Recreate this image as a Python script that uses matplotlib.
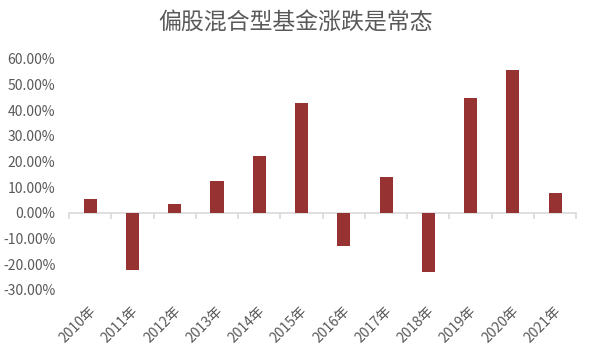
import numpy as np
import matplotlib.pyplot as plt
import matplotlib.transforms as mtransforms

plt.rcParams['font.family'] = ['Noto Sans CJK SC', 'DejaVu Sans']

# data
years = ['2010年', '2011年', '2012年', '2013年', '2014年', '2015年',
         '2016年', '2017年', '2018年', '2019年', '2020年', '2021年']
returns = [0.054, -0.224, 0.035, 0.124, 0.222, 0.428,
           -0.128, 0.141, -0.232, 0.447, 0.556, 0.078]
yticks = [-0.3, -0.2, -0.1, 0.0, 0.1, 0.2, 0.3, 0.4, 0.5, 0.6]

grey = '#595959'
bar_color = '#963232'

fig = plt.figure(figsize=(5.91, 3.51), dpi=100)
ax = fig.add_axes([0.117, 0.174, 0.858, 0.658])

x = np.arange(len(years))
ax.bar(x, returns, width=0.31, color=bar_color, zorder=3)

ax.set_xlim(-0.5, len(years) - 0.5)
ax.set_ylim(-0.3, 0.6)
ax.set_yticks(yticks)
ax.set_yticklabels(['%.2f%%' % (v * 100) for v in yticks])
ax.tick_params(axis='y', length=0, pad=10, labelsize=10, labelcolor=grey)

# zero line with boundary tick marks
for s in ['top', 'right', 'left']:
    ax.spines[s].set_visible(False)
ax.spines['bottom'].set_position(('data', 0))
ax.spines['bottom'].set_color('#d9d9d9')
ax.spines['bottom'].set_linewidth(1.2)
ax.set_xticks(np.arange(len(years) + 1) - 0.5)
ax.set_xticklabels([])
ax.tick_params(axis='x', direction='out', length=4, color='#d9d9d9', width=1.2)

# category labels at the bottom
trans = mtransforms.blended_transform_factory(ax.transData, ax.transAxes)
off = mtransforms.ScaledTranslation(0, -19 / 100, fig.dpi_scale_trans)
for i, lab in enumerate(years):
    ax.text(i + 0.08, 0, lab, transform=trans + off, rotation=45,
            ha='right', va='center', rotation_mode='anchor',
            fontsize=10, color=grey)

fig.text(0.5, 0.935, '偏股混合型基金涨跌是常态', ha='center', va='center',
         fontsize=16.5, color=grey)

fig.savefig('out.png', dpi=100)
